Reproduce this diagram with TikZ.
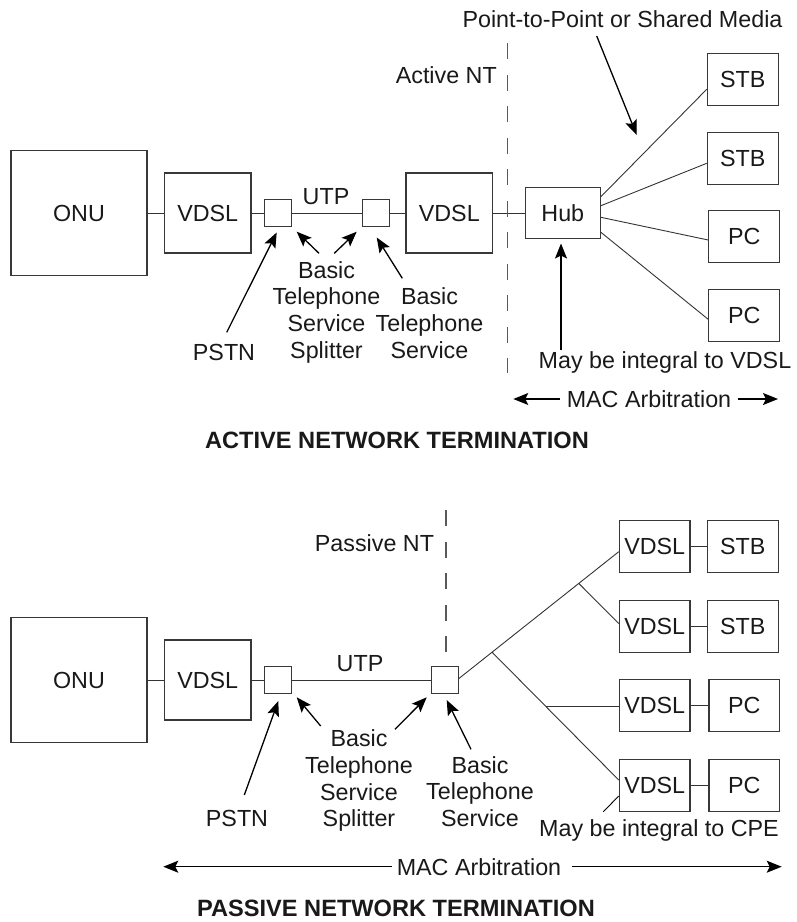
\documentclass[tikz,border=0pt]{standalone}
\usepackage{fontspec}
\setmainfont{Liberation Sans}
\usetikzlibrary{arrows.meta,calc}
\begin{document}
\begin{tikzpicture}[x=1pt,y=-1pt,
  every node/.style={font=\fontsize{23.3}{26.7}\selectfont, inner sep=0pt, text=black!90},
  box/.style={draw=black!78, line width=1.2pt},
  big/.style={box, minimum width=136pt, minimum height=125pt},
  modem/.style={box, minimum width=86.7pt, minimum height=80pt},
  small/.style={box, minimum width=71pt, minimum height=52pt},
  split/.style={box, minimum width=27pt, minimum height=27pt},
  hubbox/.style={box, minimum width=75pt, minimum height=51.4pt},
  wire/.style={draw=black!80, line width=0.9pt},
  arr/.style={draw=black, line width=1.3pt, -{Stealth[length=15pt,width=12pt,inset=3pt]}},
  lead/.style={draw=black, line width=0.9pt},
  ntline/.style={draw=black!65, line width=1.5pt, dash pattern=on 16pt off 15.5pt},
  lbl/.style={align=center},
  title/.style={font=\fontsize{23.6}{26.7}\selectfont\bfseries}
]
\useasboundingbox (0,0) rectangle (797,922);

% ================= ACTIVE =================
\node[big] (onuA) at (79,213) {ONU};
\node[modem] (vdslA1) at (207.7,213) {VDSL};
\node[split] (spA1) at (277.8,213) {};
\node[split] (spA2) at (375.7,213) {};
\node[modem] (vdslA2) at (449.3,213) {VDSL};
\node[hubbox] (hub) at (562.8,213) {Hub};
\node[small] (stbA1) at (742.8,79.7) {STB};
\node[small] (stbA2) at (742.8,158.2) {STB};
\node[small] (pcA1) at (744.3,236.8) {PC};
\node[small] (pcA2) at (744.3,315.7) {PC};

\draw[wire] (onuA) -- (vdslA1);
\draw[wire] (vdslA1) -- (spA1);
\draw[wire] (spA1) -- (spA2);
\draw[wire] (spA2) -- (vdslA2);
\draw[wire] (vdslA2) -- (hub);
\draw[wire] ($(hub.east)+(0,-16.3)$) -- ($(stbA1.west)+(0,9.6)$);
\draw[wire] ($(hub.east)+(0,-7.3)$) -- ($(stbA2.west)+(0,5.1)$);
\draw[wire] ($(hub.east)+(0,4.3)$) -- ($(pcA1.west)+(0,3.2)$);
\draw[wire] ($(hub.east)+(0,19.3)$) -- ($(pcA2.west)+(0,3.6)$);

\coordinate (ntAtop) at (507.7,43.3);
\coordinate (ntAbot) at (507.7,373);
\draw[ntline] (ntAtop) -- (ntAbot);

\node[anchor=base east] (activent) at (497,83) {Active NT};
\node[anchor=base] (ptp) at (622.5,27.5) {Point-to-Point or Shared Media};
\node[anchor=base] (utpA) at (326,204) {UTP};
\node[lbl] (bssA) at (326.5,312.3) {Basic\\Telephone\\Service\\Splitter};
\node[lbl] (btsA) at (429.5,323.2) {Basic\\Telephone\\Service};
\node[anchor=base] (pstnA) at (224,360) {PSTN};
\node[anchor=base] (integA) at (665,368.5) {May be integral to VDSL};
\node[anchor=base] (macA) at (649,407) {MAC Arbitration};
\node[title, anchor=base] (titleA) at (397,448) {ACTIVE NETWORK TERMINATION};

\coordinate (ptpT) at (596.7,36);  \coordinate (ptpH) at (636.7,135);
\draw[arr] (ptpT) -- (ptpH);
\coordinate (hubT) at (561,350);  \coordinate (hubH) at (561,243.5);
\draw[arr] (hubT) -- (hubH);
\coordinate (pstnAT) at (226.7,332.3); \coordinate (pstnAH) at (276.7,232.5);
\draw[arr] (pstnAT) -- (pstnAH);
\coordinate (bA1T) at (319,253.3); \coordinate (bA1H) at (296.7,231.7);
\draw[arr] (bA1T) -- (bA1H);
\coordinate (bA2T) at (334.3,253.3); \coordinate (bA2H) at (356.7,231.7);
\draw[arr] (bA2T) -- (bA2H);
\coordinate (bA3T) at (402.3,278.3); \coordinate (bA3H) at (376.7,237.5);
\draw[arr] (bA3T) -- (bA3H);
\coordinate (macAL) at (513.3,399); \coordinate (macAR) at (778,399);
\draw[arr] (560,399) coordinate (macAl0) -- (macAL);
\draw[arr] (738,399) coordinate (macAr0) -- (macAR);

% ================= PASSIVE =================
\node[big] (onuB) at (79,680) {ONU};
\node[modem] (vdslB) at (207.7,680) {VDSL};
\node[split] (spB1) at (277.8,680) {};
\node[split] (spB2) at (444.8,680) {};
\node[small, minimum width=70.7pt] (vB1) at (654.7,546.5) {VDSL};
\node[small, minimum width=70.7pt] (vB2) at (654.7,626.5) {VDSL};
\node[small, minimum width=70.7pt] (vB3) at (654.7,705.8) {VDSL};
\node[small, minimum width=70.7pt] (vB4) at (654.7,785.2) {VDSL};
\node[small] (stbB1) at (742.8,546.5) {STB};
\node[small] (stbB2) at (742.8,626.5) {STB};
\node[small, minimum width=70.7pt] (pcB1) at (744.3,705.8) {PC};
\node[small, minimum width=70.7pt] (pcB2) at (744.3,785.2) {PC};

\draw[wire] (onuB) -- (vdslB);
\draw[wire] (vdslB) -- (spB1);
\draw[wire] (spB1) -- (spB2);
\draw[wire] (vB1) -- (stbB1);
\draw[wire] (vB2) -- (stbB2);
\draw[wire] (vB3) -- (pcB1);
\draw[wire] (vB4) -- (pcB2);

\coordinate (trunkS) at ($(spB2.east)+(0,-1.5)$);
\coordinate (trunkE) at ($(vB1.west)+(0,5.2)$);
\coordinate (br1) at ($(trunkS)!0.2075!(trunkE)$);
\coordinate (br2) at ($(trunkS)!0.75!(trunkE)$);
\coordinate (br4E) at ($(vB4.west)+(0,-5.2)$);
\coordinate (br3) at ($(br1)!0.4255!(br4E)$);
\draw[wire] (trunkS) -- (trunkE);
\draw[wire] (br2) -- ($(vB2.west)+(0,-3)$);
\draw[wire] (br1) -- (br4E);
\draw[wire] (br3) -- (br3 -| vB3.west);

\coordinate (ntBtop) at (446,510);
\coordinate (ntBbot) at (446,655);
\draw[ntline] (ntBtop) -- (ntBbot);

\node[anchor=base] (passnt) at (374.5,551.5) {Passive NT};
\node[anchor=base] (utpB) at (360,671) {UTP};
\node[lbl] (bssB) at (359,780.7) {Basic\\Telephone\\Service\\Splitter};
\node[lbl] (btsB) at (480,791.5) {Basic\\Telephone\\Service};
\node[anchor=base] (pstnB) at (237,826.5) {PSTN};
\node[anchor=base] (integB) at (659,836) {May be integral to CPE};
\node[anchor=base] (macB) at (479,875) {MAC Arbitration};
\node[title, anchor=base] (titleB) at (396,916.5) {PASSIVE NETWORK TERMINATION};

\coordinate (cpeT) at (603.3,811.7);
\draw[lead] (cpeT) -- ($(vB4.west)+(0,10.8)$);

\coordinate (pstnBT) at (244.3,795); \coordinate (pstnBH) at (278.3,701);
\draw[arr] (pstnBT) -- (pstnBH);
\coordinate (bB1T) at (320.7,726); \coordinate (bB1H) at (296.7,697.3);
\draw[arr] (bB1T) -- (bB1H);
\coordinate (bB2T) at (395,729.3); \coordinate (bB2H) at (426.7,697.3);
\draw[arr] (bB2T) -- (bB2H);
\coordinate (bB3T) at (471,749.3); \coordinate (bB3H) at (446.7,700);
\draw[arr] (bB3T) -- (bB3H);
\coordinate (macBL) at (163.3,866.7); \coordinate (macBR) at (781.7,866.7);
\draw[arr] (391.7,866.7) coordinate (macBl0) -- (macBL);
\draw[arr] (571.7,866.7) coordinate (macBr0) -- (macBR);
\end{tikzpicture}
\end{document}
